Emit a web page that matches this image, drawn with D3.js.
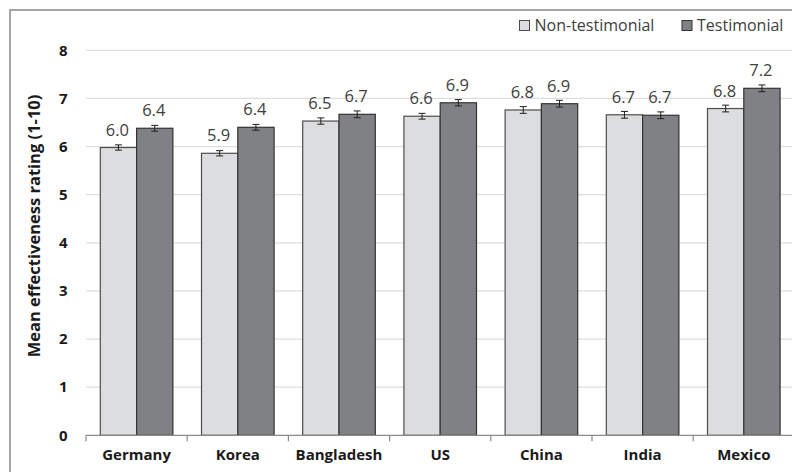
<!DOCTYPE html>
<html>
<head>
<meta charset="utf-8">
<script src="https://cdn.jsdelivr.net/npm/d3@7"></script>
<style>
  html, body { margin: 0; padding: 0; background: #fff; }
  svg { display: block; font-family: "Open Sans", "Liberation Sans", sans-serif; }
</style>
</head>
<body>
<svg id="chart" width="792" height="472"></svg>
<script>
// Countries along the x axis
const countries = ["Germany", "Korea", "Bangladesh", "US", "China", "India", "Mexico"];
// Series names (legend order)
const seriesNames = ["Non-testimonial", "Testimonial"];
// Mean effectiveness ratings per country
const nonTestimonial = [5.98, 5.86, 6.53, 6.63, 6.76, 6.66, 6.79];
const testimonial    = [6.38, 6.40, 6.67, 6.91, 6.89, 6.65, 7.21];
// Standard errors (half-length of each error bar)
const nonTestimonialErr = [0.055, 0.055, 0.065, 0.06, 0.07, 0.07, 0.07];
const testimonialErr    = [0.06, 0.06, 0.07, 0.065, 0.07, 0.07, 0.07];
// Y axis ticks
const yTicks = [0, 1, 2, 3, 4, 5, 6, 7, 8];

const fills = { "Non-testimonial": "#dcdddf", "Testimonial": "#808184" };
const strokes = { "Non-testimonial": "#4d4d4d", "Testimonial": "#333333" };

const rows = countries.map((c, i) => ({
  country: c,
  values: [
    { series: seriesNames[0], value: nonTestimonial[i], err: nonTestimonialErr[i] },
    { series: seriesNames[1], value: testimonial[i], err: testimonialErr[i] }
  ]
}));

const svg = d3.select("#chart");

// Outer frame
svg.append("rect")
  .attr("x", 10).attr("y", 10)
  .attr("width", 820).attr("height", 500)
  .attr("fill", "none")
  .attr("stroke", "#8a8a8a")
  .attr("stroke-width", 1.5);

const plotLeft = 86, plotRight = 794.4, plotTop = 50.3, plotBottom = 435.3;

const x0 = d3.scaleBand().domain(countries).range([plotLeft, plotRight]).padding(0);
const x1 = d3.scaleBand().domain(seriesNames).range([0, x0.bandwidth()])
  .paddingInner(0).paddingOuter(0.394);
const y = d3.scaleLinear().domain([0, 8]).range([plotBottom, plotTop]);

// Horizontal gridlines
svg.append("g")
  .selectAll("line")
  .data(yTicks.filter(t => t > 0))
  .join("line")
  .attr("x1", plotLeft).attr("x2", 792)
  .attr("y1", d => y(d)).attr("y2", d => y(d))
  .attr("stroke", "#dedede")
  .attr("stroke-width", 1.2);

// Y axis labels
const yAxis = d3.axisLeft(y).tickValues(yTicks).tickSize(0).tickPadding(0).tickFormat(d3.format("d"));
const yg = svg.append("g").attr("transform", `translate(67.5,0)`).call(yAxis);
yg.select(".domain").remove();
yg.selectAll("text")
  .attr("font-family", "'Open Sans', sans-serif")
  .attr("font-size", 15)
  .attr("font-weight", "bold")
  .attr("fill", "#1a1a1a");

// X axis
const xAxis = d3.axisBottom(x0).tickSize(0).tickPadding(0);
const xg = svg.append("g").attr("transform", `translate(0,${plotBottom})`).call(xAxis);
xg.select(".domain").remove();
xg.selectAll("text")
  .attr("y", 25)
  .attr("dy", 0)
  .attr("font-family", "'Open Sans', sans-serif")
  .attr("font-size", 15)
  .attr("font-weight", "bold")
  .attr("fill", "#1a1a1a");

// Category separators below the baseline
xg.selectAll(".sep")
  .data(countries)
  .join("line")
  .attr("class", "sep")
  .attr("x1", d => x0(d)).attr("x2", d => x0(d))
  .attr("y1", 0).attr("y2", 6)
  .attr("stroke", "#8a8a8a").attr("stroke-width", 1.2);

// Bars
const groups = svg.append("g")
  .selectAll("g")
  .data(rows)
  .join("g")
  .attr("transform", d => `translate(${x0(d.country)},0)`);

groups.selectAll("rect")
  .data(d => d.values)
  .join("rect")
  .attr("x", d => x1(d.series))
  .attr("y", d => y(d.value))
  .attr("width", x1.bandwidth())
  .attr("height", d => y(0) - y(d.value))
  .attr("fill", d => fills[d.series])
  .attr("stroke", d => strokes[d.series])
  .attr("stroke-width", 1.2);

// Error bars
const eb = groups.selectAll("g.err")
  .data(d => d.values)
  .join("g")
  .attr("class", "err")
  .attr("transform", d => `translate(${x1(d.series) + x1.bandwidth() / 2},0)`)
  .attr("stroke", "#1f1f1f")
  .attr("stroke-width", 1);
eb.append("line").attr("x1", 0).attr("x2", 0)
  .attr("y1", d => y(d.value + d.err)).attr("y2", d => y(d.value - d.err));
eb.append("line").attr("x1", -3.5).attr("x2", 3.5)
  .attr("y1", d => y(d.value + d.err)).attr("y2", d => y(d.value + d.err));
eb.append("line").attr("x1", -3.5).attr("x2", 3.5)
  .attr("y1", d => y(d.value - d.err)).attr("y2", d => y(d.value - d.err));

// Value labels
groups.selectAll("text.val")
  .data(d => d.values)
  .join("text")
  .attr("class", "val")
  .attr("x", d => x1(d.series) + x1.bandwidth() / 2 - 1)
  .attr("y", d => y(d.value) - 12)
  .attr("text-anchor", "middle")
  .attr("font-size", 16.5)
  .attr("fill", "#404040")
  .text(d => d3.format(".1f")(d.value));

// Baseline
svg.append("line")
  .attr("x1", plotLeft).attr("x2", 792)
  .attr("y1", plotBottom).attr("y2", plotBottom)
  .attr("stroke", "#8a8a8a").attr("stroke-width", 1.2);

// Y axis title
svg.append("text")
  .attr("transform", `translate(40,226) rotate(-90)`)
  .attr("text-anchor", "middle")
  .attr("font-size", 16.5)
  .attr("font-weight", "bold")
  .attr("fill", "#1a1a1a")
  .text("Mean effectiveness rating (1-10)");

// Legend
const legendItems = [
  { series: seriesNames[0], x: 519.5 },
  { series: seriesNames[1], x: 682 }
];
const lg = svg.append("g").selectAll("g")
  .data(legendItems)
  .join("g")
  .attr("transform", d => `translate(${d.x},20.5)`);
lg.append("rect")
  .attr("width", 10).attr("height", 10)
  .attr("fill", d => fills[d.series])
  .attr("stroke", d => strokes[d.series])
  .attr("stroke-width", 1);
lg.append("text")
  .attr("x", 15).attr("y", 10.5)
  .attr("font-size", 16)
  .attr("fill", "#404040")
  .text(d => d.series);
</script>
</body>
</html>
